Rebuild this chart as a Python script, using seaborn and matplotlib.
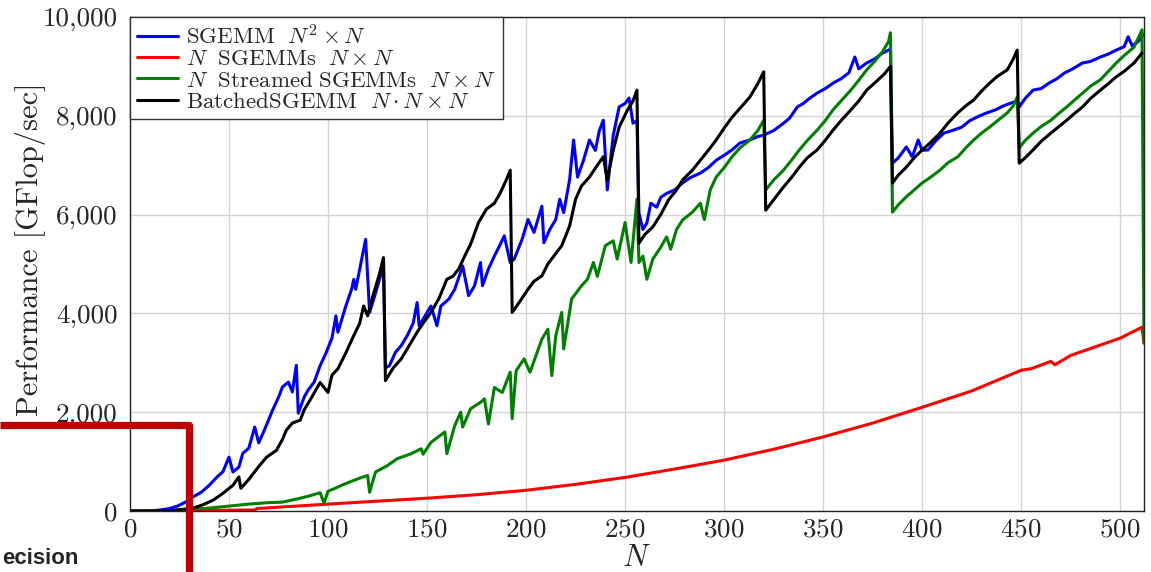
import numpy as np
import pandas as pd
import matplotlib
matplotlib.use("Agg")
import matplotlib.pyplot as plt
from matplotlib.ticker import FuncFormatter
from matplotlib.lines import Line2D
import seaborn as sns

# valores (N, GFlop/sec)
sgemm_n = [1, 8, 14, 20, 24, 28, 32, 36, 40, 44, 47, 50, 52, 55, 57, 60, 63, 65, 68, 72,
           75, 77, 80, 82, 84, 85, 88, 90, 93, 96, 99, 102, 104, 105, 109, 112, 113, 114, 117, 119,
           121, 124, 127, 128, 129, 131, 134, 137, 140, 143, 145, 146, 149, 152, 155, 157, 161, 164, 168, 171,
           174, 177, 178, 181, 184, 187, 189, 192, 194, 198, 201, 204, 208, 209, 212, 215, 217, 219, 222, 224,
           226, 229, 232, 235, 237, 239, 241, 244, 247, 250, 252, 254, 256, 257, 259, 261, 263, 266, 268, 271,
           275, 279, 283, 288, 292, 296, 300, 304, 308, 313, 317, 320, 325, 330, 333, 337, 340, 343, 347, 351,
           355, 359, 363, 366, 368, 372, 376, 380, 384, 385, 388, 392, 395, 398, 400, 403, 407, 411, 415, 420,
           424, 428, 432, 437, 441, 445, 448, 449, 452, 456, 460, 464, 468, 472, 476, 481, 485, 490, 494, 498,
           502, 504, 506, 509, 512]
sgemm_v = [0, 2, 15, 50, 100, 180, 290, 380, 520, 690, 800, 1090, 790, 890, 1170, 1270, 1700, 1380, 1650, 2040,
           2300, 2510, 2610, 2410, 2950, 1980, 2310, 2450, 2610, 2940, 3200, 3500, 3950, 3620, 4150, 4500, 4690, 4490, 5100, 5500,
           4020, 4410, 4830, 5100, 2900, 2940, 3210, 3350, 3550, 3800, 4220, 3750, 3950, 4150, 3750, 4150, 4290, 4490, 4960, 4360,
           4560, 5030, 4560, 4900, 5160, 5400, 5570, 5030, 5100, 5500, 5900, 5640, 6170, 5430, 5700, 5900, 6310, 6040, 6710, 7510,
           6760, 7100, 7510, 7300, 7700, 7910, 6500, 7600, 8180, 8250, 8360, 7850, 7900, 6030, 5700, 5830, 6230, 6150, 6350, 6430,
           6500, 6640, 6750, 6840, 6950, 7100, 7200, 7310, 7450, 7510, 7580, 7610, 7700, 7850, 7950, 8180, 8250, 8350, 8460, 8550,
           8660, 8750, 8870, 9190, 8950, 9070, 9150, 9270, 9350, 7040, 7150, 7370, 7170, 7510, 7300, 7310, 7500, 7650, 7700, 7770,
           7900, 7980, 8050, 8120, 8200, 8260, 8300, 8180, 8350, 8520, 8550, 8660, 8750, 8870, 8950, 9070, 9100, 9190, 9250, 9330,
           9400, 9600, 9420, 9500, 9650]

nsgemm_n = [1, 20, 40, 63, 64, 80, 100, 125, 150, 175, 200, 225, 250, 275, 300, 325, 350, 375, 400, 425,
            450, 455, 465, 467, 475, 500, 505, 511, 512]
nsgemm_v = [0, 5, 15, 20, 50, 90, 140, 200, 260, 330, 420, 540, 680, 850, 1030, 1250, 1500, 1780, 2100, 2430,
            2850, 2880, 3030, 2960, 3150, 3500, 3600, 3720, 3400]

stream_n = [1, 10, 20, 30, 40, 50, 60, 70, 77, 85, 90, 96, 98, 100, 103, 108, 113, 117, 120, 121,
            124, 130, 135, 142, 147, 148, 152, 159, 160, 164, 167, 168, 172, 177, 179, 181, 184, 188, 192, 193,
            195, 199, 202, 208, 211, 213, 215, 218, 219, 223, 228, 231, 234, 236, 240, 244, 246, 250, 253, 256,
            257, 259, 261, 264, 268, 271, 273, 276, 279, 284, 288, 290, 293, 296, 300, 304, 308, 313, 317, 320,
            321, 325, 330, 334, 338, 342, 347, 351, 355, 359, 364, 368, 372, 376, 380, 383, 384, 385, 388, 392,
            396, 400, 404, 409, 413, 418, 422, 426, 430, 434, 438, 443, 446, 448, 449, 452, 456, 460, 465, 469,
            473, 477, 481, 485, 490, 494, 498, 502, 507, 511, 512]
stream_v = [0, 2, 10, 30, 60, 100, 140, 170, 180, 250, 300, 370, 160, 400, 450, 540, 620, 680, 720, 380,
            790, 920, 1060, 1160, 1260, 1150, 1390, 1600, 1160, 1730, 2000, 1700, 2070, 2200, 2270, 1760, 2500, 2400, 2810, 1870,
            2840, 3080, 2810, 3480, 3680, 2740, 3550, 4020, 3280, 4290, 4560, 4690, 5030, 4750, 5370, 5470, 5100, 5840, 5030, 6310,
            5030, 5160, 4690, 5100, 5340, 5550, 5300, 5700, 5890, 6050, 6230, 5900, 6500, 6760, 6950, 7170, 7350, 7510, 7700, 7910,
            6500, 6700, 6900, 7100, 7310, 7500, 7710, 7900, 8120, 8300, 8520, 8720, 8930, 9100, 9300, 9500, 9680, 6050, 6200, 6360,
            6500, 6640, 6750, 6900, 7050, 7170, 7350, 7510, 7650, 7770, 7900, 8060, 8200, 8380, 7350, 7500, 7650, 7780, 7910, 8050,
            8180, 8320, 8460, 8600, 8730, 8900, 9070, 9220, 9390, 9740, 3400]

batched_n = [1, 10, 20, 26, 32, 37, 42, 47, 52, 55, 56, 60, 65, 69, 74, 77, 79, 82, 86, 88,
             91, 96, 100, 102, 105, 109, 113, 116, 118, 120, 123, 126, 128, 129, 133, 137, 141, 145, 148, 152,
             156, 160, 163, 166, 169, 172, 176, 180, 184, 187, 190, 192, 193, 197, 201, 204, 208, 211, 214, 218,
             222, 225, 228, 232, 236, 239, 241, 244, 247, 251, 254, 256, 257, 260, 264, 268, 272, 276, 279, 284,
             288, 292, 296, 300, 304, 308, 313, 317, 320, 321, 325, 330, 334, 338, 342, 347, 351, 355, 359, 364,
             368, 372, 377, 381, 384, 385, 388, 392, 396, 400, 404, 409, 413, 418, 422, 426, 430, 434, 438, 443,
             446, 448, 449, 452, 456, 460, 465, 469, 473, 477, 481, 485, 490, 494, 498, 502, 507, 511]
batched_v = [0, 0, 10, 30, 60, 130, 220, 360, 520, 690, 460, 640, 900, 1090, 1230, 1450, 1640, 1780, 1840, 2050,
             2250, 2600, 2400, 2750, 2880, 3200, 3550, 3800, 4150, 3950, 4400, 4800, 5130, 2640, 2900, 3080, 3350, 3620, 3800, 4020,
             4300, 4690, 4750, 4900, 5160, 5400, 5840, 6110, 6230, 6440, 6700, 6900, 4020, 4250, 4490, 4650, 4760, 5000, 5160, 5370,
             5770, 6310, 6580, 6760, 7000, 7170, 6700, 7300, 7770, 8100, 8300, 8520, 5420, 5600, 5750, 6000, 6300, 6500, 6700, 6900,
             7100, 7300, 7510, 7750, 7970, 8150, 8380, 8650, 8890, 6090, 6300, 6560, 6750, 6960, 7150, 7310, 7500, 7710, 7900, 8120,
             8300, 8520, 8700, 8850, 9000, 6640, 6800, 6960, 7150, 7310, 7450, 7650, 7850, 8060, 8200, 8320, 8500, 8660, 8800, 8930,
             9150, 9330, 7040, 7150, 7310, 7480, 7650, 7780, 7910, 8050, 8180, 8350, 8520, 8650, 8790, 8900, 9070, 9270]

series = [
    (sgemm_n, sgemm_v, r'$\mathrm{SGEMM}\ \ N^2 \times N$', '#0000ff'),
    (nsgemm_n, nsgemm_v, r'$N\ \ \mathrm{SGEMMs}\ \ N \times N$', '#ff0000'),
    (stream_n, stream_v, r'$N\ \ \mathrm{Streamed\ SGEMMs}\ \ N \times N$', '#008000'),
    (batched_n, batched_v, r'$\mathrm{BatchedSGEMM}\ \ N \cdot N \times N$', '#000000'),
]

sns.set_style('whitegrid')
plt.rcParams['font.family'] = ['cmr10', 'DejaVu Serif']
plt.rcParams['mathtext.fontset'] = 'cm'
plt.rcParams['axes.formatter.use_mathtext'] = True

fig = plt.figure(figsize=(11.51, 5.72), dpi=100)
ax = fig.add_axes([0.1129, 0.1066, 0.8810, 0.8637])

for n, v, lab, col in series:
    df = pd.DataFrame({'N': n, 'perf': v})
    sns.lineplot(data=df, x='N', y='perf', color=col, label=lab, linewidth=2.2,
                 sort=False, estimator=None, ax=ax)

ax.set_xlim(0, 512)
ax.set_ylim(0, 10000)
ax.set_xticks(np.arange(0, 501, 50))
ax.set_yticks(np.arange(0, 10001, 2000))
ax.yaxis.set_major_formatter(FuncFormatter(lambda v, p: f'{v:,.0f}'))
ax.tick_params(axis='both', labelsize=19.5, length=0)
ax.tick_params(axis='y', pad=9)
ax.tick_params(axis='x', pad=5)
ax.grid(True, color='#d4d4d4', linewidth=1.0)
for s in ax.spines.values():
    s.set_color('#222222')
    s.set_linewidth(1.0)

ax.set_xlabel('$N$', fontsize=22, labelpad=2)
ax.set_ylabel('Performance [GFlop/sec]', fontsize=22)
ax.yaxis.set_label_coords(-0.083, 0.53)

leg = ax.legend(loc='upper left', bbox_to_anchor=(0, 1), borderaxespad=0, fontsize=16.5,
                frameon=True, fancybox=False, edgecolor='#333333', framealpha=1,
                handlelength=1.8, handletextpad=0.35, labelspacing=0.05, borderpad=0.3)
leg.get_frame().set_linewidth(1.0)

# moldura vermelha sobreposta no canto inferior esquerdo
fig.add_artist(Line2D([0, 189 / 1151, 189 / 1151], [1 - 425 / 572, 1 - 425 / 572, -0.05],
                      transform=fig.transFigure, color='#c00000', linewidth=5.2,
                      solid_joinstyle='round', solid_capstyle='butt'))
fig.text(0.002, 0.014, 'ecision', ha='left', va='baseline', fontsize=16,
         fontweight='bold', family='Liberation Sans')

fig.savefig('out.png', dpi=100)
